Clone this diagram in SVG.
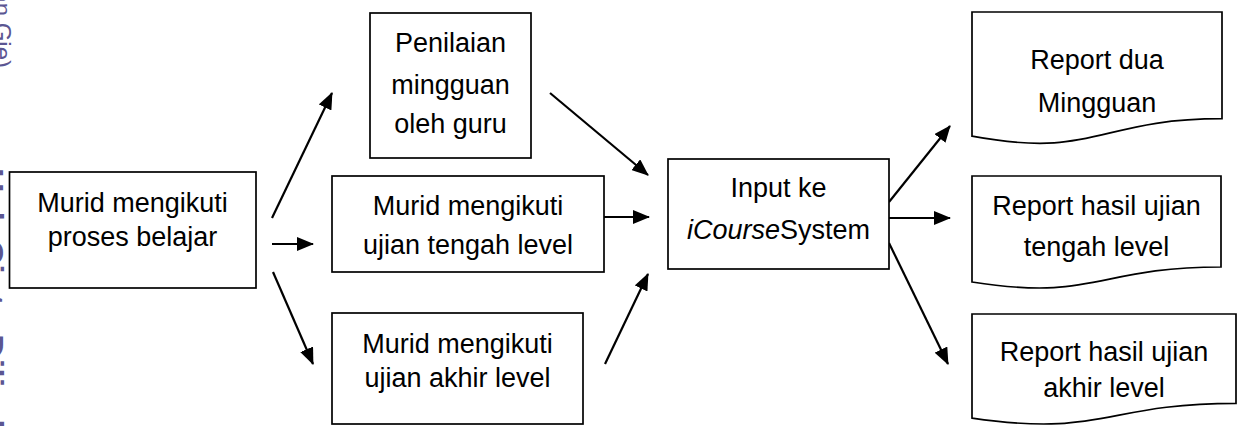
<svg xmlns="http://www.w3.org/2000/svg" width="1238" height="426" viewBox="0 0 1238 426">
  <defs>
    <marker id="arrow" markerUnits="userSpaceOnUse" markerWidth="17" markerHeight="14" refX="16" refY="7" orient="auto">
      <path d="M0,0 L17,7 L0,14 Z" fill="#000"/>
    </marker>
  </defs>
  <style>
    .box { fill: #fff; stroke: #000; stroke-width: 1.7; }
    .lbl { font-family: "Liberation Sans", Arial, sans-serif; font-size: 27px; fill: #000; text-anchor: middle; }
    .conn { stroke: #000; stroke-width: 2.2; fill: none; marker-end: url(#arrow); }
    .wm { font-family: "Liberation Sans", Arial, sans-serif; fill: #5b5692; }
  </style>
  <rect width="1238" height="426" fill="#fff"/>

  <g id="watermark">
    <text class="wm" font-size="24" text-anchor="end" transform="translate(-6,68) rotate(90)">© Hak cipta milik IBI KKG (Institut Bisnis dan Informatika Kwik Kian Gie)</text>
    <text class="wm" font-size="34" font-weight="bold" transform="translate(-20,168) rotate(90)">Hak Cipta Dilindungi Undang-Undang</text>
  </g>

  <g id="connectors">
    <line class="conn" x1="272" y1="218" x2="332" y2="93"/>
    <line class="conn" x1="272" y1="244" x2="313" y2="244"/>
    <line class="conn" x1="273" y1="272" x2="313" y2="364"/>
    <line class="conn" x1="550" y1="93" x2="648" y2="175"/>
    <line class="conn" x1="604" y1="217" x2="649" y2="217"/>
    <line class="conn" x1="605" y1="364" x2="648" y2="274"/>
    <line class="conn" x1="889" y1="202" x2="950" y2="126"/>
    <line class="conn" x1="889" y1="218" x2="950" y2="218"/>
    <line class="conn" x1="889" y1="243" x2="948" y2="364"/>
  </g>

  <g id="node-proses-belajar">
    <rect class="box" x="9.5" y="172" width="246.5" height="116"/>
    <text class="lbl" x="132.5" y="212">Murid mengikuti</text>
    <text class="lbl" x="132.5" y="246">proses belajar</text>
  </g>

  <g id="node-penilaian">
    <rect class="box" x="370" y="13" width="161" height="145"/>
    <text class="lbl" x="450.5" y="52">Penilaian</text>
    <text class="lbl" x="450.5" y="94">mingguan</text>
    <text class="lbl" x="450.5" y="133">oleh guru</text>
  </g>

  <g id="node-ujian-tengah">
    <rect class="box" x="332" y="176" width="272" height="96"/>
    <text class="lbl" x="468" y="215">Murid mengikuti</text>
    <text class="lbl" x="468" y="254">ujian tengah level</text>
  </g>

  <g id="node-ujian-akhir">
    <rect class="box" x="332" y="313" width="251" height="111"/>
    <text class="lbl" x="457.5" y="353">Murid mengikuti</text>
    <text class="lbl" x="457.5" y="387">ujian akhir level</text>
  </g>

  <g id="node-input">
    <rect class="box" x="668" y="159" width="221" height="110"/>
    <text class="lbl" x="778.5" y="197">Input ke</text>
    <text class="lbl" x="778.5" y="239"><tspan font-style="italic">iCourse</tspan>System</text>
  </g>

  <g id="node-report-mingguan">
    <path class="box" d="M972,12 H1222 V118.7 C1097,118.7 1097,159.3 972,136.2 Z"/>
    <text class="lbl" x="1097" y="69">Report dua</text>
    <text class="lbl" x="1097" y="112">Mingguan</text>
  </g>

  <g id="node-report-tengah">
    <path class="box" d="M972,176 H1221 V267 C1096.5,267 1096.5,301.6 972,282 Z"/>
    <text class="lbl" x="1096.5" y="215">Report hasil ujian</text>
    <text class="lbl" x="1096.5" y="256">tengah level</text>
  </g>

  <g id="node-report-akhir">
    <path class="box" d="M972,314 H1236 V403.4 C1104,403.4 1104,437.4 972,418.1 Z"/>
    <text class="lbl" x="1104" y="361">Report hasil ujian</text>
    <text class="lbl" x="1104" y="397">akhir level</text>
  </g>
</svg>
